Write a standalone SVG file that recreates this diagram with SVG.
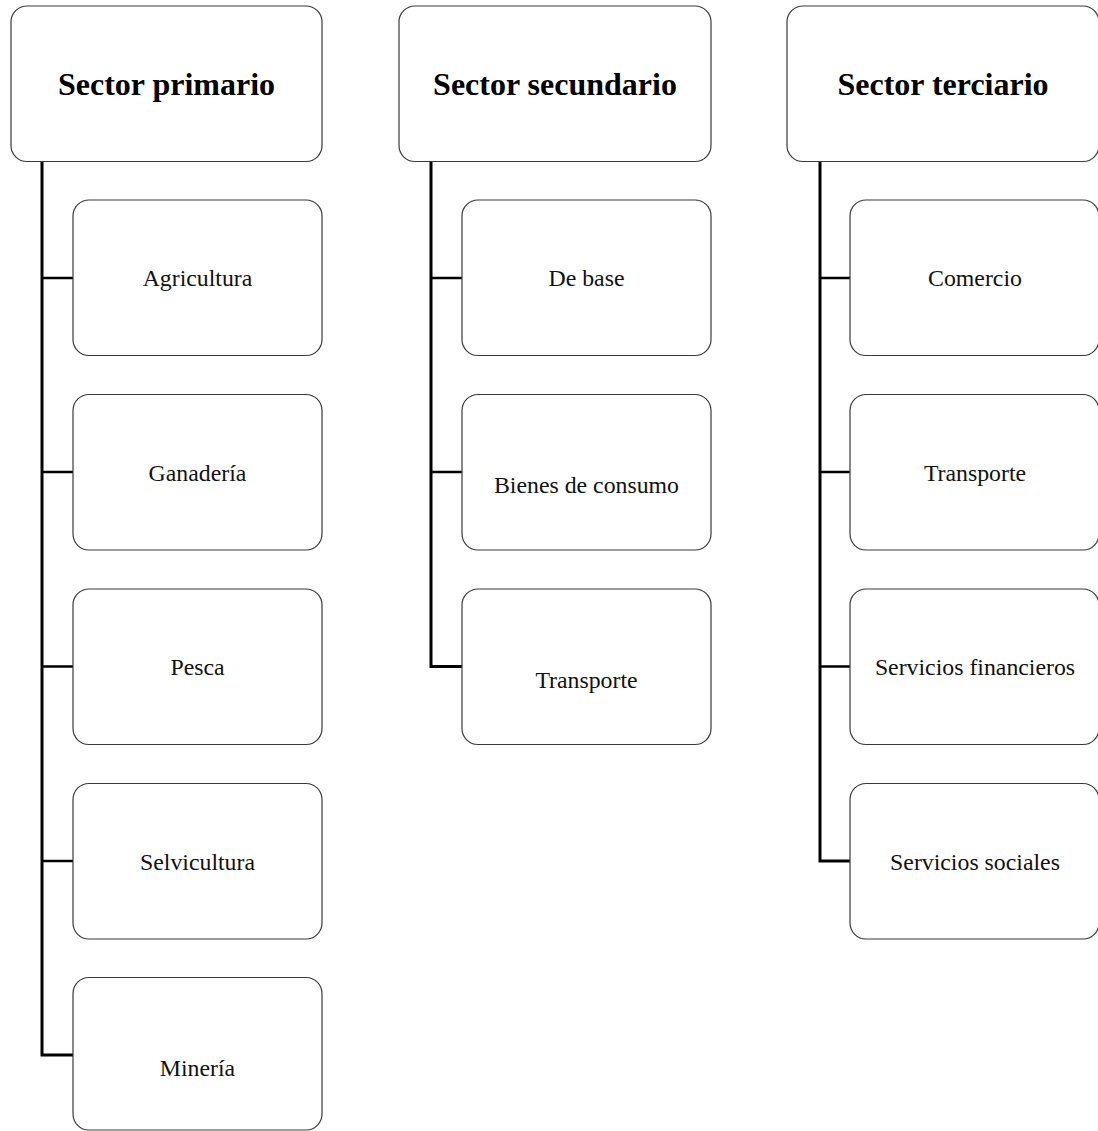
<svg xmlns="http://www.w3.org/2000/svg" width="1098" height="1131" viewBox="0 0 1098 1131">
<style>
.box{fill:#fff;stroke:#3a3a3a;stroke-width:1.2}
.t{font-family:"Liberation Serif","Times New Roman",serif;font-size:32px;font-weight:bold;text-anchor:middle;fill:#000}
.c{font-family:"Liberation Serif","Times New Roman",serif;font-size:23.8px;text-anchor:middle;fill:#111}
.v{stroke:#000;stroke-width:3;fill:none}
.h{stroke:#000;stroke-width:2.5;fill:none}
</style>
<rect width="1098" height="1131" fill="#fff"/>
<g id="connectors">
<path class="v" d="M42 161 V1055 H73"/>
<path class="h" d="M42 278 H73 M42 472 H73 M42 666.5 H73 M42 861 H73"/>
<path class="v" d="M431 161 V666.5 H462"/>
<path class="h" d="M431 278 H462 M431 472 H462"/>
<path class="v" d="M820 161 V861 H850"/>
<path class="h" d="M820 278 H850 M820 472 H850 M820 666.5 H850"/>
</g>
<g id="sector-primario"><rect class="box" x="11" y="6" width="311" height="155.5" rx="16"/><text class="t" x="166.5" y="94.5">Sector primario</text></g>
<g id="agricultura"><rect class="box" x="73" y="200" width="249" height="155.5" rx="16"/><text class="c" x="197.5" y="286">Agricultura</text></g>
<g id="ganaderia"><rect class="box" x="73" y="394.5" width="249" height="155.5" rx="16"/><text class="c" x="197.5" y="480.5">Ganadería</text></g>
<g id="pesca"><rect class="box" x="73" y="589" width="249" height="155.5" rx="16"/><text class="c" x="197.5" y="675">Pesca</text></g>
<g id="selvicultura"><rect class="box" x="73" y="783.5" width="249" height="155.5" rx="16"/><text class="c" x="197.5" y="869.5">Selvicultura</text></g>
<g id="mineria"><rect class="box" x="73" y="977.5" width="249" height="152.5" rx="16"/><text class="c" x="197.5" y="1076">Minería</text></g>
<g id="sector-secundario"><rect class="box" x="399" y="6" width="312" height="155.5" rx="16"/><text class="t" x="555" y="94.5">Sector secundario</text></g>
<g id="de-base"><rect class="box" x="462" y="200" width="249" height="155.5" rx="16"/><text class="c" x="586.5" y="286">De base</text></g>
<g id="bienes-de-consumo"><rect class="box" x="462" y="394.5" width="249" height="155.5" rx="16"/><text class="c" x="586.5" y="493">Bienes de consumo</text></g>
<g id="transporte-sec"><rect class="box" x="462" y="589" width="249" height="155.5" rx="16"/><text class="c" x="586.5" y="687.5">Transporte</text></g>
<g id="sector-terciario"><rect class="box" x="787" y="6" width="312" height="155.5" rx="16"/><text class="t" x="943" y="94.5">Sector terciario</text></g>
<g id="comercio"><rect class="box" x="850" y="200" width="249" height="155.5" rx="16"/><text class="c" x="975" y="286">Comercio</text></g>
<g id="transporte-ter"><rect class="box" x="850" y="394.5" width="249" height="155.5" rx="16"/><text class="c" x="975" y="480.5">Transporte</text></g>
<g id="servicios-financieros"><rect class="box" x="850" y="589" width="249" height="155.5" rx="16"/><text class="c" x="975" y="675">Servicios financieros</text></g>
<g id="servicios-sociales"><rect class="box" x="850" y="783.5" width="249" height="155.5" rx="16"/><text class="c" x="975" y="869.5">Servicios sociales</text></g>
</svg>
